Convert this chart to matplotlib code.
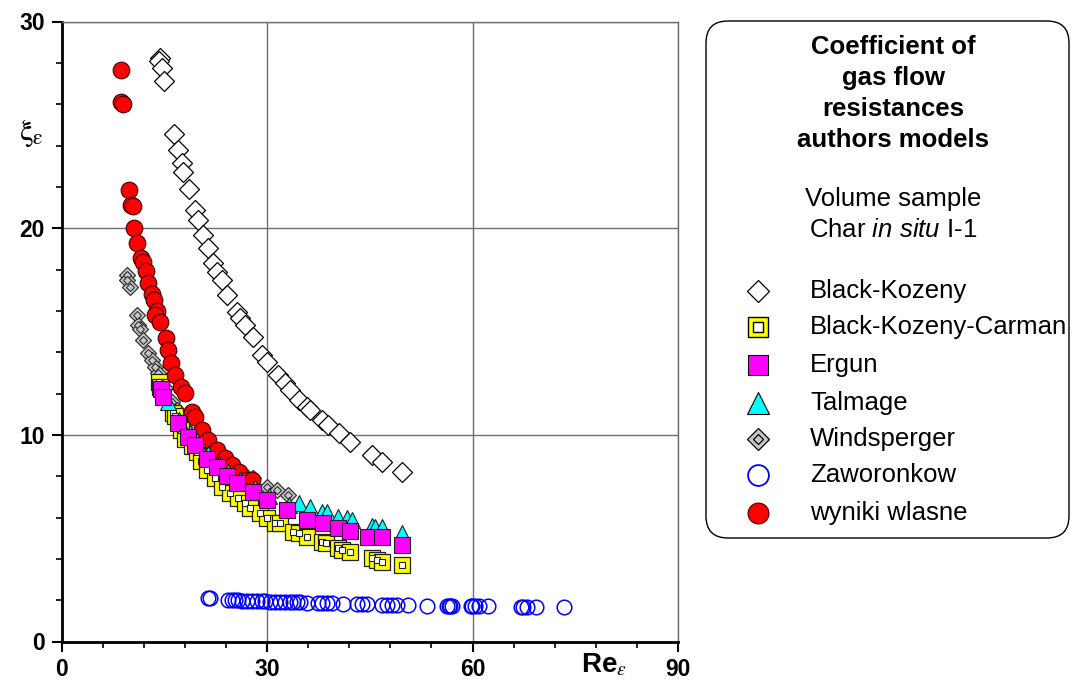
import matplotlib

matplotlib.use("Agg")
import matplotlib.pyplot as plt
from matplotlib.patches import FancyBboxPatch
from matplotlib.ticker import MultipleLocator

plt.rcParams["font.family"] = ["Liberation Sans", "DejaVu Sans"]
plt.rcParams["mathtext.fontset"] = "custom"
plt.rcParams["mathtext.rm"] = "Liberation Sans"
plt.rcParams["mathtext.it"] = "Liberation Sans:italic"
plt.rcParams["mathtext.bf"] = "Liberation Sans:bold"

# Black-Kozeny (open diamonds)
bk_x = [14.4, 14.2, 14.6, 14.95, 16.45, 17.04, 17.5, 17.77, 18.65, 19.48, 19.97, 20.6, 21.3, 22.15,
        22.65, 23.4, 24.2, 25.6, 26.05, 26.8, 28.0, 29.3, 29.96, 31.65, 32.6, 33.4, 34.6, 35.8,
        36.3, 38.0, 38.96, 40.56, 42.1, 45.3, 46.76, 49.7]
bk_y = [28.23, 28.1, 27.74, 27.1, 24.56, 23.79, 23.15, 22.74, 21.9, 20.89, 20.4, 19.68, 19.03, 18.3,
        17.9, 17.5, 16.77, 15.96, 15.64, 15.32, 14.75, 13.87, 13.54, 12.9, 12.5, 12.17, 11.7, 11.37,
        11.2, 10.72, 10.48, 10.08, 9.67, 9.03, 8.7, 8.22]

# Black-Kozeny-Carman (yellow squares)
bkc_x = [14.26, 14.4, 16.3, 16.6, 17.4, 18.0, 19.1, 19.7, 20.4, 21.2, 22.4, 23.4, 24.6, 25.8, 26.8,
         27.5, 29.0, 29.96, 31.2, 31.9, 33.8, 34.6, 35.8, 38.0, 38.6, 40.4, 40.9, 42.1, 45.3, 46.0,
         46.8, 49.7]
bkc_y = [12.58, 12.3, 11.05, 10.9, 10.24, 9.8, 9.45, 9.19, 8.75, 8.3, 7.9, 7.5, 7.17, 6.93, 6.69,
         6.45, 6.2, 5.96, 5.72, 5.72, 5.31, 5.24, 5.07, 4.83, 4.78, 4.51, 4.43, 4.35, 4.03, 3.95,
         3.86, 3.7]

# Ergun (magenta squares)
ergun_x = [14.5, 14.85, 17.04, 18.5, 19.48, 21.19, 22.65, 24.1, 25.6, 28.0, 29.95, 32.97, 35.8,
           38.2, 40.4, 42.1, 44.8, 46.8, 49.7]
ergun_y = [12.2, 11.85, 10.56, 9.91, 9.51, 8.85, 8.42, 8.02, 7.65, 7.25, 6.85, 6.36, 5.88,
           5.72, 5.48, 5.36, 5.07, 5.04, 4.67]

# Talmage (cyan triangles)
talmage_x = [14.6, 15.5, 17.2, 18.7, 19.7, 21.4, 22.9, 24.3, 26.0, 28.2, 30.2, 33.2, 34.6, 36.3,
             38.0, 38.7, 40.4, 41.65, 42.4, 45.3, 45.8, 46.8, 49.7]
talmage_y = [12.3, 11.6, 10.7, 10.1, 9.7, 9.05, 8.6, 8.2, 7.8, 7.45, 7.05, 6.6, 6.69, 6.52,
             6.28, 6.28, 6.04, 5.96, 5.88, 5.59, 5.56, 5.56, 5.24]

# Windsperger (grey diamonds)
winds_x = [9.5, 9.6, 10.0, 10.96, 11.2, 11.44, 11.9, 12.66, 13.15, 13.64, 14.1, 15.1, 16.1, 16.8,
           17.6, 18.5, 19.5, 20.5, 21.5, 22.6, 23.8, 25.0, 26.0, 27.1, 28.0, 30.0, 31.4, 33.0]
winds_y = [17.74, 17.5, 17.17, 15.8, 15.3, 15.1, 14.6, 13.95, 13.63, 13.3, 12.98, 12.26, 11.6, 11.2,
           10.8, 10.4, 9.9, 9.5, 9.2, 8.85, 8.5, 8.3, 8.1, 7.98, 7.9, 7.49, 7.33, 7.09]

# Zaworonkow (open blue circles)
zaw_x = [21.4, 21.7, 24.3, 24.8, 25.3, 25.8, 26.3, 27.0, 27.8, 28.5, 29.2, 29.7, 30.4, 31.2, 31.9,
         32.6, 33.4, 33.8, 34.3, 34.8, 35.8, 37.5, 38.0, 38.7, 39.5, 41.1, 43.1, 43.8, 44.6, 46.8,
         47.5, 48.2, 49.0, 50.6, 53.3, 56.3, 56.5, 56.7, 57.0, 59.7, 59.9, 60.4, 60.9, 62.3, 67.0,
         67.4, 67.9, 69.2, 73.4]
zaw_y = [2.1, 2.1, 2.02, 2.01, 2.0, 2.0, 1.98, 1.97, 1.96, 1.95, 1.95, 1.94, 1.93, 1.92, 1.92,
         1.91, 1.9, 1.9, 1.89, 1.89, 1.88, 1.86, 1.86, 1.85, 1.84, 1.83, 1.81, 1.81, 1.8, 1.78,
         1.78, 1.77, 1.77, 1.76, 1.74, 1.73, 1.73, 1.73, 1.72, 1.71, 1.71, 1.7, 1.7, 1.7, 1.68,
         1.68, 1.67, 1.67, 1.65]

# wyniki wlasne (red circles)
own_x = [8.6, 8.6, 9.0, 9.83, 10.08, 10.46, 10.57, 11.05, 11.54, 11.93, 12.27, 12.66, 13.24, 13.53,
         13.97, 13.63, 14.36, 15.24, 15.58, 15.93, 16.56, 17.39, 18.02, 19.0, 19.48, 20.46, 21.43,
         22.65, 23.87, 24.84, 25.82, 27.03, 27.8]
own_y = [27.66, 26.1, 26.0, 21.85, 21.13, 21.05, 20.03, 19.3, 18.55, 18.38, 17.95, 17.37, 16.82,
         16.53, 16.0, 15.8, 15.48, 14.68, 14.11, 13.47, 12.9, 12.33, 12.01, 11.12, 10.88, 10.24,
         9.75, 9.27, 8.87, 8.54, 8.22, 7.82, 7.82]

legend_labels = ["Black-Kozeny", "Black-Kozeny-Carman", "Ergun", "Talmage",
                 "Windsperger", "Zaworonkow", "wyniki wlasne"]

W, H = 1072, 691
fig = plt.figure(figsize=(W / 100, H / 100), dpi=100)
ax = fig.add_axes([61.7 / W, 1 - 641.5 / H, 616.3 / W, 620 / H])

grey = "#c8c8c8"
ax.plot(bk_x, bk_y, ls="none", marker="D", ms=10, mfc="white", mec="black", mew=0.9, zorder=3)
ax.plot(zaw_x, zaw_y, ls="none", marker="o", ms=10.5, mfc="none", mec="#0000ff", mew=1.1, zorder=3)
ax.plot(winds_x, winds_y, ls="none", marker="D", ms=8.2, mfc=grey, mec="#303030", mew=0.9, zorder=4)
ax.plot(winds_x, winds_y, ls="none", marker="D", ms=4.2, mfc=grey, mec="#303030", mew=0.8, zorder=4)
ax.plot(own_x, own_y, ls="none", marker="o", ms=12, mfc="#ff0000", mec="#400000", mew=0.8, zorder=5)
ax.plot(bkc_x, bkc_y, ls="none", marker="s", ms=11, mfc="#ffff00", mec="#202020", mew=0.9, zorder=6)
ax.plot(bkc_x, bkc_y, ls="none", marker="s", ms=5, mfc="white", mec="#202020", mew=0.8, zorder=6)
ax.plot(talmage_x, talmage_y, ls="none", marker="^", ms=12, mfc="#00ffff", mec="#202020", mew=0.8, zorder=7)
ax.plot(ergun_x, ergun_y, ls="none", marker="s", ms=11, mfc="#ff00ff", mec="#202020", mew=0.8, zorder=8)

ax.set_xlim(0, 90)
ax.set_ylim(0, 30)
ax.xaxis.set_major_locator(MultipleLocator(30))
ax.xaxis.set_minor_locator(MultipleLocator(6))
ax.yaxis.set_major_locator(MultipleLocator(10))
ax.yaxis.set_minor_locator(MultipleLocator(2))
ax.grid(True, which="major", color="#6e6e6e", linewidth=1.0, zorder=1)
ax.set_axisbelow(True)
for side in ("top", "right"):
    ax.spines[side].set_color("#6e6e6e")
    ax.spines[side].set_linewidth(1.0)
for side in ("left", "bottom"):
    ax.spines[side].set_color("black")
    ax.spines[side].set_linewidth(2.0)
ax.tick_params(which="major", direction="out", length=7, width=1.5, labelsize=16.5, pad=5)
ax.tick_params(which="minor", direction="out", length=4, width=1.2)
for label in ax.get_xticklabels() + ax.get_yticklabels():
    label.set_fontweight("bold")

ax.set_ylabel(r"$\mathrm{\xi_{\varepsilon}}$", rotation=0, fontsize=22, math_fontfamily="stix", va="center")
ax.yaxis.set_label_coords(-0.05, 0.82)
ax.set_xlabel(r"Re$_{\varepsilon}$", fontsize=20, fontweight="bold", math_fontfamily="stix")
ax.xaxis.set_label_coords(0.88, -0.016)

# legend panel drawn in pixel units
leg = fig.add_axes([0, 0, 1, 1])
leg.set_xlim(0, W)
leg.set_ylim(H, 0)
leg.axis("off")
leg.add_patch(FancyBboxPatch((706, 21), 363, 517, boxstyle="round,pad=0,rounding_size=22",
                             fc="white", ec="black", lw=1.0))
title_lines = ["Coefficient of", "gas flow", "resistances", "authors models"]
for line, ty in zip(title_lines, [47, 78, 109, 140]):
    leg.text(893, ty, line, ha="center", va="center", fontsize=18.5, fontweight="bold")
leg.text(893, 199, "Volume sample", ha="center", va="center", fontsize=18.5)
leg.text(893, 230, r"Char $\mathit{in\ situ}$ I-1", ha="center", va="center", fontsize=18.5,
         math_fontfamily="custom")

rows = [290.6, 326.8, 364.7, 402.6, 438.7, 474.9, 512.8]
mx = 758
leg.plot(mx, rows[0], marker="D", ms=11, mfc="white", mec="black", mew=0.9)
leg.plot(mx, rows[1], marker="s", ms=15, mfc="#ffff00", mec="black", mew=1.0)
leg.plot(mx, rows[1], marker="s", ms=6.5, mfc="white", mec="black", mew=1.0)
leg.plot(mx, rows[2], marker="s", ms=15, mfc="#ff00ff", mec="black", mew=0.8)
leg.plot(mx, rows[3], marker="^", ms=16, mfc="#00ffff", mec="black", mew=0.8)
leg.plot(mx, rows[4], marker="D", ms=11, mfc=grey, mec="black", mew=0.9)
leg.plot(mx, rows[4], marker="D", ms=5.5, mfc=grey, mec="black", mew=0.9)
leg.plot(mx, rows[5], marker="o", ms=15, mfc="white", mec="#0000ff", mew=1.3)
leg.plot(mx, rows[6], marker="o", ms=15, mfc="#ff0000", mec="#400000", mew=0.8)
for label, ry in zip(legend_labels, rows):
    leg.text(810, ry, label, ha="left", va="center", fontsize=18.5)

fig.savefig("out.png", dpi=100)
